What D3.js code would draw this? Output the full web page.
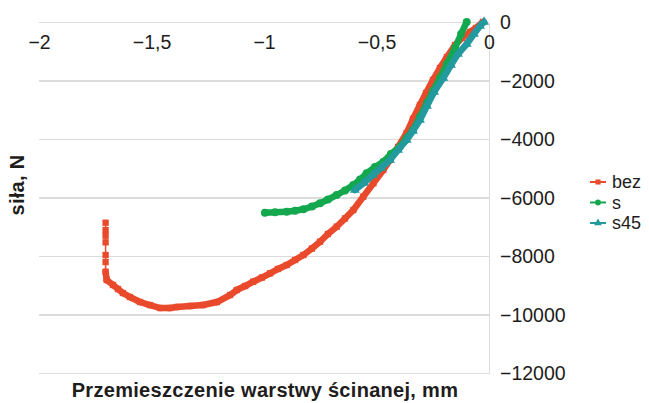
<!DOCTYPE html>
<meta charset="utf-8">
<style>
body { margin: 0; background-color: #fff; }
text { font-family: "Liberation Sans", Arial, sans-serif; fill: #1e1c1c; }
.axis path, .axis line { fill: none; stroke: #dcdcdc; stroke-width: 1.5px; shape-rendering: crispEdges; }
.axis text { font-size: 19.5px; }
.title { font-size: 20px; font-weight: bold; letter-spacing: 0.3px; }
.legend text { font-size: 18px; }
</style>
<head>
<script src="https://d3js.org/d3.v7.min.js"></script>
</head>
<body>
<svg id="chart" width="649" height="403"></svg>
<script>
// values (x in mm, y in N)
var seriesNames = ["bez", "s", "s45"];
var seriesColors = ["#ea4a2c", "#14a84e", "#239a9e"];

var bezX = [-1.704, -1.704, -1.704, -1.704, -1.704, -1.704, -1.704, -1.699, -1.671, -1.649, -1.627, -1.596,
  -1.551, -1.507, -1.462, -1.418, -1.387, -1.329, -1.271, -1.209, -1.151, -1.121, -1.084, -1.048,
  -1.009, -0.973, -0.938, -0.899, -0.862, -0.825, -0.787, -0.751, -0.716, -0.677, -0.640, -0.603,
  -0.559, -0.514, -0.470, -0.440, -0.404, -0.366, -0.338, -0.307, -0.280, -0.249, -0.218, -0.187,
  -0.151, -0.120, -0.084, -0.058, -0.027];
var bezY = [-6862, -7112, -7306, -7532, -7966, -8206, -8537, -8821, -8992, -9129, -9265, -9402,
  -9573, -9676, -9778, -9778, -9744, -9710, -9676, -9573, -9334, -9163, -9026, -8879,
  -8736, -8592, -8445, -8308, -8137, -7966, -7744, -7512, -7248, -6999, -6718, -6428,
  -5973, -5515, -5060, -4718, -4274, -3795, -3316, -2838, -2427, -1983, -1573, -1197,
  -786, -547, -342, -205, 0];

var sX = [-0.996, -0.951, -0.899, -0.862, -0.825, -0.787, -0.751, -0.716, -0.677, -0.640, -0.603,
  -0.573, -0.544, -0.507, -0.469, -0.436, -0.396, -0.366, -0.338, -0.307, -0.276, -0.249, -0.218,
  -0.187, -0.151, -0.124, -0.099];
var sY = [-6520, -6506, -6486, -6452, -6404, -6308, -6199, -6069, -5915, -5761, -5573,
  -5385, -5173, -4958, -4776, -4513, -4263, -3966, -3692, -3238, -2769, -2359, -1915,
  -1436, -889, -410, 0];

var s45X = [-0.596, -0.556, -0.516, -0.480, -0.440, -0.404, -0.366, -0.338, -0.307, -0.276, -0.244,
  -0.203, -0.169, -0.138, -0.099, -0.067, -0.040, -0.022];
var s45Y = [-5744, -5505, -5231, -4992, -4718, -4376, -4034, -3727, -3351, -2872, -2393,
  -1915, -1470, -1094, -752, -410, -137, 0];

var xTicks = [-2, -1.5, -1, -0.5, 0];
var yTicks = [0, -2000, -4000, -6000, -8000, -10000, -12000];

var svg = d3.select("#chart");

var x = d3.scaleLinear().domain([-2, 0]).range([39, 489]),
    y = d3.scaleLinear().domain([-12000, 0]).range([373, 22]);

var fmt = d3.formatLocale({decimal: ",", thousands: "", grouping: [3], currency: ["", ""], minus: "\u2212"}).format("");

// y axis on the right with gridlines running left
svg.append("g")
  .attr("class", "axis axis--y")
  .attr("transform", "translate(" + x(0) + ",0)")
  .call(d3.axisRight(y).tickValues(yTicks).tickFormat(fmt).tickSizeInner(-(x(0) - x(-2))).tickSizeOuter(0).tickPadding(11))
  .selectAll("text").attr("dy", "0.35em");

// x axis labels sit just under the zero line
var gx = svg.append("g")
  .attr("class", "axis axis--x")
  .attr("transform", "translate(0," + y(0) + ")")
  .call(d3.axisBottom(x).tickValues(xTicks).tickFormat(fmt).tickSize(0).tickPadding(13));
gx.select(".domain").remove();

var series = [
  {name: seriesNames[0], color: seriesColors[0], sym: d3.symbolSquare, size: 40, pts: d3.zip(bezX, bezY)},
  {name: seriesNames[1], color: seriesColors[1], sym: d3.symbolCircle, size: 50, pts: d3.zip(sX, sY)},
  {name: seriesNames[2], color: seriesColors[2], sym: d3.symbolTriangle, size: 42, pts: d3.zip(s45X, s45Y)}
];

series.forEach(function(s) {
  var g = svg.append("g").attr("class", "series");
  // one segment per pair of points; the vertical run (same x) is drawn thin
  var segs = d3.pairs(s.pts);
  g.selectAll(".seg")
    .data(segs)
    .enter().append("line")
    .attr("class", "seg")
    .attr("x1", function(d) { return x(d[0][0]); })
    .attr("y1", function(d) { return y(d[0][1]); })
    .attr("x2", function(d) { return x(d[1][0]); })
    .attr("y2", function(d) { return y(d[1][1]); })
    .attr("stroke", s.color)
    .attr("stroke-linecap", "round")
    .attr("stroke-width", function(d) { return d[0][0] === d[1][0] ? 1.5 : 6.5; });
  g.selectAll(".pt")
    .data(s.pts)
    .enter().append("path")
    .attr("class", "pt")
    .attr("transform", function(d) { return "translate(" + x(d[0]) + "," + y(d[1]) + ")"; })
    .attr("d", d3.symbol().type(s.sym).size(s.size))
    .attr("fill", s.color);
});

// legend
var lg = svg.append("g").attr("class", "legend");
series.forEach(function(s, i) {
  var ly = 182 + i * 20.5;
  lg.append("line")
    .attr("x1", 590).attr("x2", 606)
    .attr("y1", ly).attr("y2", ly)
    .attr("stroke", s.color).attr("stroke-width", 2);
  lg.append("path")
    .attr("transform", "translate(598," + ly + ")")
    .attr("d", d3.symbol().type(s.sym).size(26))
    .attr("fill", s.color);
  lg.append("text")
    .attr("x", 612).attr("y", ly)
    .attr("dy", "0.35em")
    .text(s.name);
});

// axis titles
svg.append("text")
  .attr("class", "title")
  .attr("transform", "translate(24,185) rotate(-90)")
  .attr("text-anchor", "middle")
  .text("siła, N");

svg.append("text")
  .attr("class", "title")
  .attr("x", 265).attr("y", 397)
  .attr("text-anchor", "middle")
  .text("Przemieszczenie warstwy ścinanej, mm");
</script>
</body>
